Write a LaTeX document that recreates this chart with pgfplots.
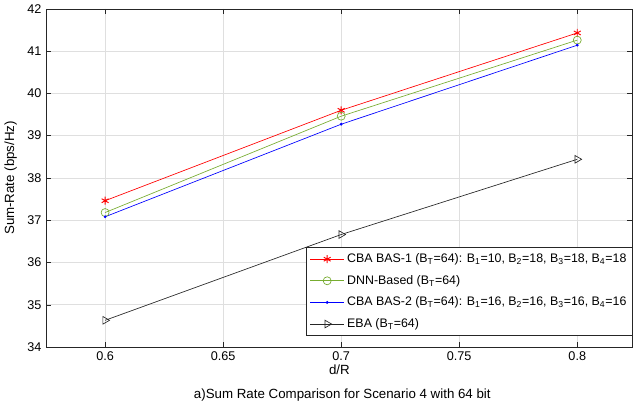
\documentclass[border=0pt]{standalone}
\usepackage{pgfplots}
\pgfplotsset{compat=1.18}
\usepackage{fontspec}
\setmainfont{Liberation Sans}
\definecolor{mgreen}{RGB}{119,172,48}
\definecolor{mgrid}{RGB}{223,223,223}
\definecolor{mbox}{RGB}{38,38,38}
\begin{document}
\begin{tikzpicture}
\begin{axis}[
  scale only axis,
  width=439bp, height=253bp,
  xmin=0.575, xmax=0.8235, ymin=34, ymax=42,
  xtick={0.6,0.65,...,0.81}, ytick={34,35,...,42},
  xticklabels={0.6,0.65,0.7,0.75,0.8},
  grid=major, grid style={mgrid, line width=0.4pt},
  tick align=inside, tick pos=both,
  axis line style={mbox, line width=0.4pt},
  major tick length=4pt,
  tick style={mbox},
  /pgf/number format/assume math mode=true,
  tick label style={font=\fontsize{9.5}{11}\selectfont},
  label style={font=\fontsize{10}{12}\selectfont},
  xlabel={d/R}, ylabel={Sum-Rate (bps/Hz)},
  xlabel style={yshift=4pt}, ylabel style={yshift=1pt},
  legend style={at={(1,0.033)}, anchor=south east, font=\fontsize{9.3}{11}\selectfont,
    draw=mbox, line width=0.4pt, row sep=4pt, inner sep=2.5pt},
  legend image code/.code={
    \draw[mark repeat=2,mark phase=2,#1] plot coordinates {(0cm,0cm) (0.45cm,0cm) (0.9cm,0cm)};},
  legend cell align=left,
  clip=false,
]
\addplot[red, line width=0.5pt, mark=asterisk, mark size=3pt, mark options={line width=0.7pt}] coordinates {(0.6,37.46) (0.7,39.60) (0.8,41.43)};
\addlegendentry{CBA BAS-1 (B\textsubscript{T}=64): B\textsubscript{1}=10, B\textsubscript{2}=18, B\textsubscript{3}=18, B\textsubscript{4}=18}
\addplot[mgreen, line width=0.5pt, mark=o, mark size=3pt] coordinates {(0.6,37.18) (0.7,39.46) (0.8,41.26)};
\addlegendentry{DNN-Based (B\textsubscript{T}=64)}
\addplot[blue, line width=0.5pt, mark=*, mark size=0.8pt] coordinates {(0.6,37.08) (0.7,39.27) (0.8,41.14)};
\addlegendentry{CBA BAS-2 (B\textsubscript{T}=64): B\textsubscript{1}=16, B\textsubscript{2}=16, B\textsubscript{3}=16, B\textsubscript{4}=16}
\addplot[mbox, line width=0.5pt, mark=triangle, mark size=3.3pt, mark options={rotate=-90}] coordinates {(0.6,34.63) (0.7,36.66) (0.8,38.44)};
\addlegendentry{EBA (B\textsubscript{T}=64)}
\node[font=\fontsize{10}{12}\selectfont, anchor=north] at (rel axis cs:0.505,0) [yshift=-28pt] {a)Sum Rate Comparison for Scenario 4 with 64 bit};
\end{axis}
\end{tikzpicture}
\end{document}
